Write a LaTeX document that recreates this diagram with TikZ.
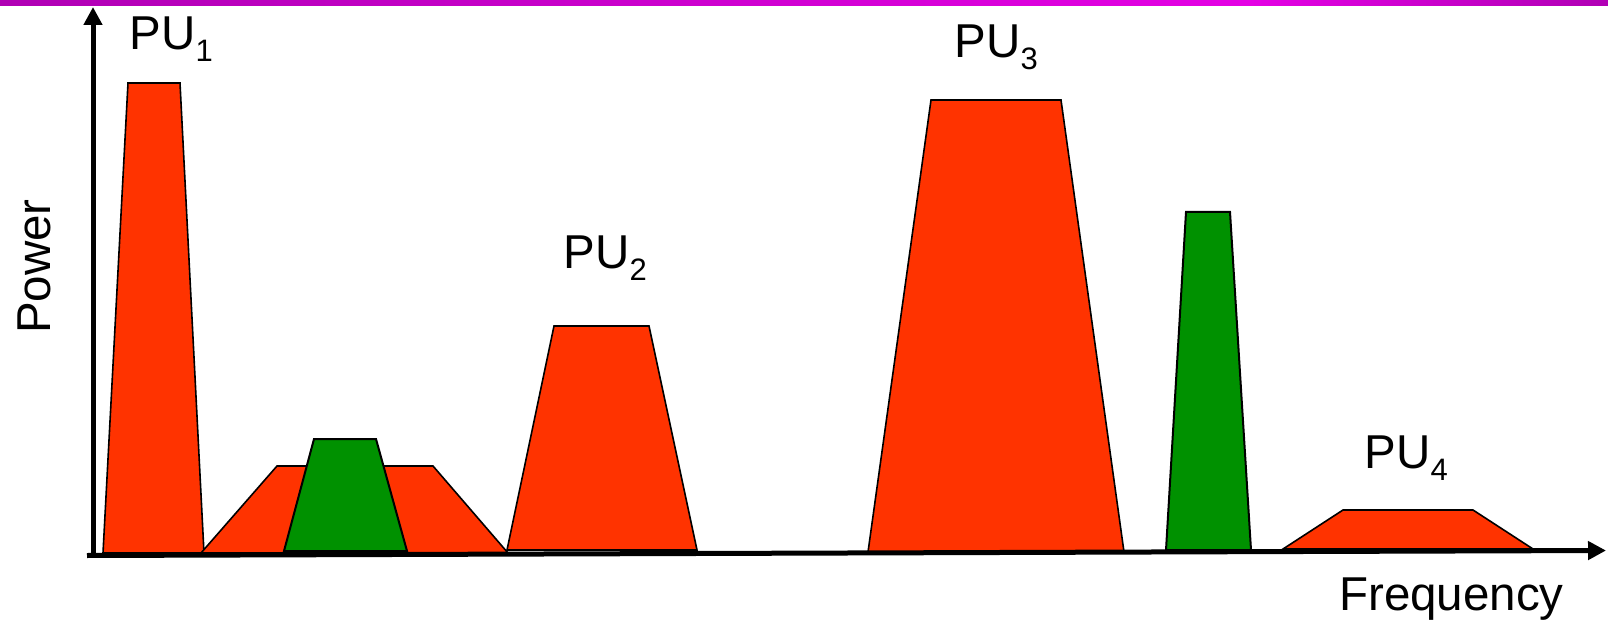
\documentclass[tikz,border=0pt]{standalone}
\usepackage{fontspec}
\setmainfont{Liberation Sans}
\usetikzlibrary{arrows.meta}
\definecolor{pured}{RGB}{255,51,0}
\definecolor{sugreen}{RGB}{0,145,0}
\definecolor{barpurple}{RGB}{176,0,180}
\definecolor{barmagenta}{RGB}{228,0,228}
\newcommand{\pulabel}[1]{PU\raisebox{-12pt}{\fontsize{31}{34}\selectfont #1}}
\tikzset{
  band/.style={draw=black, line width=1.6pt, line join=miter},
  pu/.style={band, fill=pured},
  su/.style={band, fill=sugreen, line width=2pt},
  axis/.style={line width=5pt, -{Triangle[length=18pt,width=18pt]}},
  lbl/.style={inner sep=0pt, anchor=base west, font=\fontsize{47.5}{57}\selectfont}
}
\begin{document}
\begin{tikzpicture}[x=1pt,y=-1pt]
\useasboundingbox (0,0) rectangle (1608,620);
% top bar
\shade[left color=barpurple, right color=barmagenta] (0,0) rectangle (1250,6);
\shade[left color=barmagenta, right color=barpurple] (1250,0) rectangle (1608,6);
% PU1
\draw[pu] (103,553) -- (128,83) -- (180,83) -- (204,553) -- cycle;
% wide red band
\draw[pu] (201,553) -- (277,466) -- (433,466) -- (508,553) -- cycle;
% green band 1
\draw[su] (284,551) -- (314,439) -- (376,439) -- (407,551) -- cycle;
% PU2
\draw[pu] (507,550) -- (554,326) -- (649,326) -- (697,550) -- cycle;
% PU3
\draw[pu] (868,552) -- (931,100) -- (1061,100) -- (1124,552) -- cycle;
% green band 2
\draw[su] (1166,550) -- (1186,212) -- (1230,212) -- (1251,550) -- cycle;
% PU4
\draw[pu] (1283,549) -- (1343,510) -- (1473,510) -- (1533,549) -- cycle;
% axes
\coordinate (yo) at (93,557);
\coordinate (ytip) at (93,7);
\coordinate (xo) at (87,555.5);
\coordinate (xtip) at (1606,550.5);
\draw[axis] (yo) -- (ytip);
\draw[axis] (xo) -- (xtip);
% labels
\node[lbl] (pu1) at (129.5,50) {\pulabel{1}};
\node[lbl] (pu2) at (563.5,269) {\pulabel{2}};
\node[lbl] (pu3) at (954.5,58) {\pulabel{3}};
\node[lbl] (pu4) at (1364.5,468) {\pulabel{4}};
\node[lbl] (freq) at (1339,610) {Frequency};
\node[lbl, rotate=90] (power) at (50,334) {Power};
\end{tikzpicture}
\end{document}
